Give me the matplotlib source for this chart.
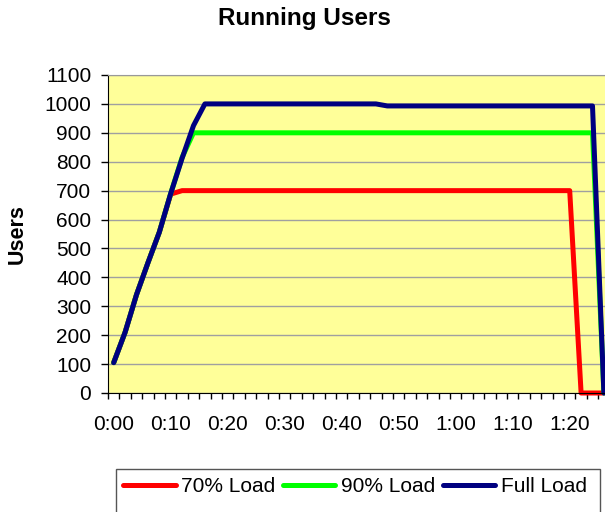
import matplotlib.pyplot as plt
from matplotlib.patches import Rectangle
from matplotlib.ticker import FixedLocator

plt.rcParams['font.family'] = ['Liberation Sans', 'DejaVu Sans']

# samples every 2 minutes, 0:00 .. 1:26
times = ['%d:%02d' % divmod(m, 60) for m in range(0, 88, 2)]
tick_labels = ['0:00', '0:10', '0:20', '0:30', '0:40', '0:50', '1:00', '1:10', '1:20']

load70 = [105, 210, 340, 450, 556, 688, 700, 700, 700, 700,
          700, 700, 700, 700, 700, 700, 700, 700, 700, 700,
          700, 700, 700, 700, 700, 700, 700, 700, 700, 700,
          700, 700, 700, 700, 700, 700, 700, 700, 700, 700,
          700, 0, 0, 0]
load90 = [105, 210, 340, 450, 556, 690, 815, 900, 900, 900,
          900, 900, 900, 900, 900, 900, 900, 900, 900, 900,
          900, 900, 900, 900, 900, 900, 900, 900, 900, 900,
          900, 900, 900, 900, 900, 900, 900, 900, 900, 900,
          900, 900, 900, 0]
full = [105, 210, 340, 450, 556, 690, 812, 925, 1000, 1000,
        1000, 1000, 1000, 1000, 1000, 1000, 1000, 1000, 1000, 1000,
        1000, 1000, 1000, 1000, 993, 993, 993, 993, 993, 993,
        993, 993, 993, 993, 993, 993, 993, 993, 993, 993,
        993, 993, 993, 0]

series = [('70% Load', load70, '#ff0000'),
          ('90% Load', load90, '#00ff00'),
          ('Full Load', full, '#000080')]

fig = plt.figure(figsize=(6.05, 5.12), dpi=100)
ax = fig.add_axes([108 / 605, 1 - 393 / 512, 501.6 / 605, 318 / 512])
ax.set_facecolor('#ffff99')

x = list(range(len(times)))
for name, vals, col in series:
    ax.plot(x, vals, color=col, lw=3.6, label=name,
            solid_capstyle='round', solid_joinstyle='round', clip_on=False)

ax.set_xlim(-0.5, len(times) - 0.5)
ax.set_ylim(0, 1100)
ax.set_yticks(range(0, 1101, 100))
ax.yaxis.grid(True, color='#a0a0a0', lw=1)
ax.set_axisbelow(True)

ax.set_xticks([times.index(t) for t in tick_labels])
ax.set_xticklabels(tick_labels)
ax.xaxis.set_minor_locator(FixedLocator([i - 0.5 for i in range(len(times) + 1)]))
ax.tick_params(axis='x', which='major', length=0, pad=16, labelsize=15)
ax.tick_params(axis='x', which='minor', length=4, width=1, direction='out')
ax.tick_params(axis='y', length=5, width=1, direction='out', pad=7, labelsize=15)

ax.spines['top'].set_color('#999999')
ax.spines['right'].set_visible(False)
for s in ('left', 'bottom'):
    ax.spines[s].set_color('black')

fig.text(304 / 605, 1 - 18 / 512, 'Running Users', ha='center', va='center',
         fontsize=17.5, fontweight='bold')
fig.text(17 / 605, 1 - 234 / 512, 'Users', ha='center', va='center',
         rotation=90, fontsize=15.5, fontweight='bold')

fig.patches.append(Rectangle((116 / 605, -0.05), 484 / 605, 0.05 + 43 / 512,
                             transform=fig.transFigure, fill=False,
                             edgecolor='#555555', lw=1))
fig.legend(loc='center', bbox_to_anchor=(355 / 605, 1 - 487 / 512), ncol=3,
           frameon=False, fontsize=15, handlelength=2.5, handletextpad=0.25,
           columnspacing=0.4, borderpad=0)

fig.savefig('out.png', dpi=100)
